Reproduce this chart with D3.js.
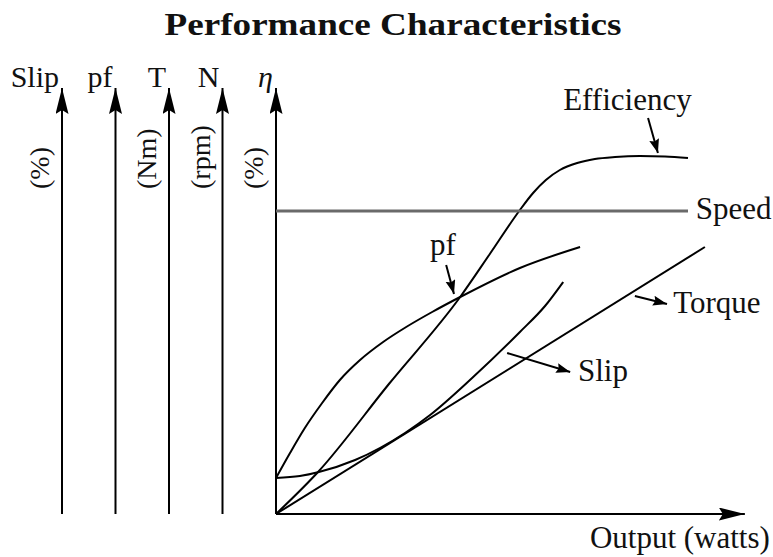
<!DOCTYPE html>
<html>
<head>
<meta charset="utf-8">
<script src="https://cdn.jsdelivr.net/npm/d3@7"></script>
<style>
body { margin: 0; background: #fff; }
text { font-family: "Liberation Serif", "Times New Roman", serif; fill: #111; }
</style>
</head>
<body>
<script>

// ----------------------------------------
//  Data (output in % of full load, value in arbitrary %)
// ----------------------------------------

var efficiency = [[0,0],[10.2,10.5],[27.4,32.5],[44.7,54.25],[51.9,65],[59.2,76],[62.4,80.25],[65.5,83.5],[68.9,86],[73.1,87.75],[77.4,88.75],[82.3,89.25],[88.3,89.5],[94.4,89.4],[100,89]];
var powerFactor = [[0,9],[3.4,15.25],[7.0,21.5],[11.2,27.75],[15.5,33.5],[20.4,38.5],[26.0,43],[31.6,46.75],[37.9,50.5],[44.7,54.25],[59.2,61.5],[73.8,66.75]];
var slip = [[0,9],[5.8,9.5],[10.4,10.5],[19.2,13.5],[31.3,20.25],[37.4,24.75],[47.6,34],[59.2,45.5],[65.3,52],[69.7,58]];
var torque = [[0,0],[104.1,66.75]];
var speed = [[0,75.75],[100,75.75]];

var axisNames = ["Slip", "pf", "T", "N", "\u03b7"];
var axisUnits = ["(%)", "", "(Nm)", "(rpm)", "(%)"];

var title = "Performance Characteristics";
var xLabel = "Output (watts)";

// ----------------------------------------
//  Scales
// ----------------------------------------

var width = 773, height = 557;

var x = d3.scaleLinear().domain([0, 100]).range([276, 688]);
var y = d3.scaleLinear().domain([0, 100]).range([514, 114]);

var xMax = 113.8;   // end of the output arrow
var yMax = 106.5;   // end of the vertical arrows

var axisX = d3.scalePoint().domain(axisNames).range([62, x(0)]);

var svg = d3.select("body").append("svg")
    .attr("width", width)
    .attr("height", height);

var defs = svg.append("defs");

defs.append("marker")
    .attr("id", "bigHead")
    .attr("markerUnits", "userSpaceOnUse")
    .attr("markerWidth", 28).attr("markerHeight", 14)
    .attr("refX", 26).attr("refY", 6.5)
    .attr("orient", "auto")
    .append("path")
    .attr("d", "M0,0 L26,6.5 L0,13 L4,6.5 z")
    .attr("fill", "#000");

defs.append("marker")
    .attr("id", "smallHead")
    .attr("markerUnits", "userSpaceOnUse")
    .attr("markerWidth", 16).attr("markerHeight", 12)
    .attr("refX", 14).attr("refY", 5)
    .attr("orient", "auto")
    .append("path")
    .attr("d", "M0,0 L14,5 L0,10 L2,5 z")
    .attr("fill", "#000");

// ----------------------------------------
//  Title
// ----------------------------------------

svg.append("text")
    .attr("x", 393)
    .attr("y", 35)
    .attr("text-anchor", "middle")
    .attr("textLength", 457)
    .attr("lengthAdjust", "spacingAndGlyphs")
    .style("font-weight", "bold")
    .style("font-size", "31px")
    .text(title);

// ----------------------------------------
//  Axes
// ----------------------------------------

svg.selectAll(".vaxis")
    .data(axisNames)
    .enter()
    .append("line")
    .attr("class", "vaxis")
    .attr("x1", function(d) { return axisX(d); })
    .attr("x2", function(d) { return axisX(d); })
    .attr("y1", y(0))
    .attr("y2", y(yMax))
    .attr("stroke", "#000")
    .attr("stroke-width", 2)
    .attr("marker-end", "url(#bigHead)");

svg.append("line")
    .attr("x1", x(0)).attr("x2", x(xMax))
    .attr("y1", y(0)).attr("y2", y(0))
    .attr("stroke", "#000")
    .attr("stroke-width", 2)
    .attr("marker-end", "url(#bigHead)");

svg.selectAll(".aname")
    .data(axisNames)
    .enter()
    .append("text")
    .attr("class", "aname")
    .attr("x", function(d) { return axisX(d) - 3; })
    .attr("y", 87)
    .attr("text-anchor", "end")
    .style("font-size", "30px")
    .style("font-style", function(d, i) { return i == 4 ? "italic" : "normal"; })
    .text(function(d) { return d; });

svg.selectAll(".aunit")
    .data(axisUnits)
    .enter()
    .append("text")
    .attr("class", "aunit")
    .attr("transform", function(d, i) {
        return "translate(" + (axisX(axisNames[i]) - 13) + ",189) rotate(-90)";
    })
    .style("font-size", "28px")
    .text(function(d) { return d; });

svg.append("text")
    .attr("x", x(xMax) + 25)
    .attr("y", y(-8.5))
    .attr("text-anchor", "end")
    .style("font-size", "31px")
    .text(xLabel);

// ----------------------------------------
//  Curves
// ----------------------------------------

var line = d3.line()
    .x(function(d) { return x(d[0]); })
    .y(function(d) { return y(d[1]); })
    .curve(d3.curveMonotoneX);

[efficiency, powerFactor, slip, torque].forEach(function(s) {
    svg.append("path")
        .datum(s)
        .attr("d", line)
        .attr("fill", "none")
        .attr("stroke", "#000")
        .attr("stroke-width", 2);
});

svg.append("path")
    .datum(speed)
    .attr("d", line)
    .attr("fill", "none")
    .attr("stroke", "#6a6a6a")
    .attr("stroke-width", 3);

// ----------------------------------------
//  Curve labels
// ----------------------------------------

var notes = [
    { text: "Efficiency", at: [69.7, 101], from: [90.3, 99], to: [92.7, 90.25] },
    { text: "Speed", at: [101.9, 73.75] },
    { text: "pf", at: [37.4, 64.75], from: [41.3, 62.25], to: [43.2, 55] },
    { text: "Torque", at: [96.4, 50.25], from: [87.1, 54.5], to: [94.9, 52.5] },
    { text: "Slip", at: [73.3, 33.25], from: [56.1, 40.25], to: [71.4, 35.5] }
];

svg.selectAll(".note")
    .data(notes)
    .enter()
    .append("text")
    .attr("class", "note")
    .attr("x", function(d) { return x(d.at[0]); })
    .attr("y", function(d) { return y(d.at[1]); })
    .style("font-size", "31px")
    .text(function(d) { return d.text; });

svg.selectAll(".pointer")
    .data(notes.filter(function(d) { return d.from; }))
    .enter()
    .append("line")
    .attr("class", "pointer")
    .attr("x1", function(d) { return x(d.from[0]); })
    .attr("y1", function(d) { return y(d.from[1]); })
    .attr("x2", function(d) { return x(d.to[0]); })
    .attr("y2", function(d) { return y(d.to[1]); })
    .attr("stroke", "#000")
    .attr("stroke-width", 2)
    .attr("marker-end", "url(#smallHead)");

</script>
</body>
</html>
